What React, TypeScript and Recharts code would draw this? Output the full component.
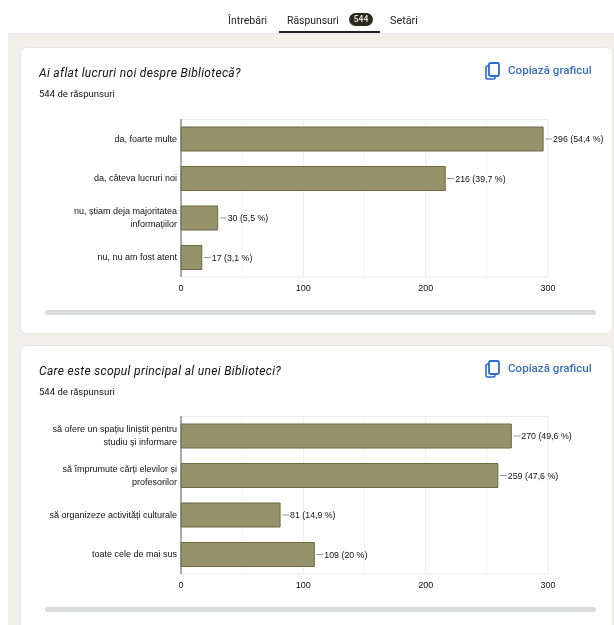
import { BarChart, Bar, XAxis, YAxis, CartesianGrid, LabelList } from "recharts";

const tabs = ["Întrebări", "Răspunsuri", "Setări"];
const responseCount = "544";

const titleOne = "Ai aflat lucruri noi despre Bibliotecă?";
const answersOne = [
    "da, foarte multe",
    "da, câteva lucruri noi",
    "nu, știam deja majoritatea informațiilor",
    "nu, nu am fost atent",
];
const valuesOne = [296, 216, 30, 17];
const percentsOne = ["54,4", "39,7", "5,5", "3,1"];

const titleTwo = "Care este scopul principal al unei Biblioteci?";
const answersTwo = [
    "să ofere un spațiu liniștit pentru studiu și informare",
    "să împrumute cărți elevilor și profesorilor",
    "să organizeze activități culturale",
    "toate cele de mai sus",
];
const valuesTwo = [270, 259, 81, 109];
const percentsTwo = ["49,6", "47,6", "14,9", "20"];

const xTicks = [0, 100, 200, 300];
const minorTicks = [50, 150, 250];

const FONT = "Liberation Sans, Arial, sans-serif";
const UI_FONT = "Roboto, sans-serif";

const wrapLabel = (text: string, max = 34) => {
    const lines: string[] = [];
    let line = "";
    text.split(" ").forEach((word) => {
        const next = line ? line + " " + word : word;
        if (next.length > max) {
            lines.push(line);
            line = word;
        } else {
            line = next;
        }
    });
    lines.push(line);
    return lines;
};

function AnswerTick({ x, y, payload }: any) {
    const lines = wrapLabel(payload.value);
    const startY = y + 3 - (lines.length - 1) * 6.5;
    return (
        <text textAnchor="end" fontSize={9} fontFamily={FONT} fill="#111">
            {lines.map((l, i) => (
                <tspan key={i} x={x + 4} y={startY + i * 13}>
                    {l}
                </tspan>
            ))}
        </text>
    );
}

function ValueLabel({ x, y, width, height, value }: any) {
    const end = x + width;
    const mid = y + height / 2;
    return (
        <g>
            <line x1={end + 2} x2={end + 9} y1={mid} y2={mid} stroke="#999" />
            <text x={end + 10} y={mid + 3} fontSize={8.8} fontFamily={FONT} fill="#111">
                {value}
            </text>
        </g>
    );
}

function AnswerChart({ answers, values, percents }: { answers: string[]; values: number[]; percents: string[] }) {
    const rows = answers.map((name, i) => ({
        name,
        value: values[i],
        label: `${values[i]} (${percents[i]} %)`,
    }));
    return (
        <BarChart
            width={614}
            height={180}
            data={rows}
            layout="vertical"
            margin={{ top: 0, right: 66, bottom: 0, left: 0 }}
        >
            <CartesianGrid horizontal={false} stroke="#f6f6f6" verticalValues={minorTicks} />
            <CartesianGrid stroke="#ececec" verticalValues={xTicks} horizontalPoints={[0.5, 158]} />
            <XAxis
                type="number"
                domain={[0, 300]}
                ticks={xTicks}
                axisLine={false}
                tickLine={false}
                height={22}
                tickMargin={2}
                tick={{ fontSize: 9, fontFamily: FONT, fill: "#111" }}
            />
            <YAxis
                type="category"
                dataKey="name"
                width={181}
                axisLine={{ stroke: "#777", strokeWidth: 1.2 }}
                tickLine={false}
                interval={0}
                tick={<AnswerTick />}
            />
            <Bar dataKey="value" barSize={24} fill="#96926a" stroke="#6d6943" strokeWidth={1} isAnimationActive={false}>
                <LabelList dataKey="label" content={<ValueLabel />} />
            </Bar>
        </BarChart>
    );
}

function Card({ top, height, title, chartTop, children }: any) {
    return (
        <div
            style={{
                position: "absolute",
                left: 20,
                top,
                width: 593,
                height,
                background: "#fff",
                borderRadius: 7,
                border: "1px solid #e6e6e2",
                boxSizing: "border-box",
            }}
        >
            <div style={{ position: "absolute", left: 18, top: 18, fontFamily: UI_FONT, fontStyle: "italic", fontSize: 12, letterSpacing: 0.33, color: "#111", whiteSpace: "nowrap" }}>
                {title}
            </div>
            <div style={{ position: "absolute", left: 18, top: 40, fontFamily: UI_FONT, fontSize: 9.5, color: "#111", whiteSpace: "nowrap" }}>
                {responseCount} de răspunsuri
            </div>
            <svg style={{ position: "absolute", left: 464, top: 14 }} width={15} height={18} viewBox="0 0 15 18">
                <rect x="1" y="4" width="9" height="13" rx="1.5" fill="none" stroke="#2c6bc9" strokeWidth="1.6" />
                <rect x="4" y="1" width="10" height="13" rx="1.5" fill="#fff" stroke="#2c6bc9" strokeWidth="1.8" />
            </svg>
            <div style={{ position: "absolute", left: 487, top: 15, fontFamily: UI_FONT, fontSize: 11.6, fontWeight: 500, color: "#3a6fc0", whiteSpace: "nowrap" }}>
                Copiază graficul
            </div>
            <div style={{ position: "absolute", left: -21, top: chartTop }}>{children}</div>
            <div style={{ position: "absolute", left: 24, top: chartTop + 191, width: 551, height: 5, borderRadius: 3, background: "#d9dade" }} />
        </div>
    );
}

export default function App() {
    return (
        <div style={{ position: "absolute", left: 0, top: 0, width: 614, height: 625, overflow: "hidden", background: "#fff", filter: "blur(0.5px)" }}>
            <div style={{ position: "absolute", left: 8, top: 33, width: 606, height: 592, background: "#f0efe9", borderTop: "1px solid #e4e6ea", boxSizing: "border-box" }} />
            <div style={{ position: "absolute", left: 228, top: 14, fontFamily: UI_FONT, fontSize: 10.6, color: "#222" }}>{tabs[0]}</div>
            <div style={{ position: "absolute", left: 287, top: 14, fontFamily: UI_FONT, fontSize: 10.4, color: "#222" }}>{tabs[1]}</div>
            <div style={{ position: "absolute", left: 349, top: 13, width: 24, height: 13, borderRadius: 7, background: "#2a2a1c", color: "#ddd", fontFamily: UI_FONT, fontSize: 8.5, fontWeight: 700, lineHeight: "13px", textAlign: "center" }}>
                {responseCount}
            </div>
            <div style={{ position: "absolute", left: 390, top: 14, fontFamily: UI_FONT, fontSize: 10.8, color: "#222" }}>{tabs[2]}</div>
            <div style={{ position: "absolute", left: 279, top: 31, width: 101, height: 2, background: "#222" }} />

            <Card top={47} height={287} title={titleOne} chartTop={71}>
                <AnswerChart answers={answersOne} values={valuesOne} percents={percentsOne} />
            </Card>
            <Card top={345} height={290} title={titleTwo} chartTop={70}>
                <AnswerChart answers={answersTwo} values={valuesTwo} percents={percentsTwo} />
            </Card>
        </div>
    );
}
